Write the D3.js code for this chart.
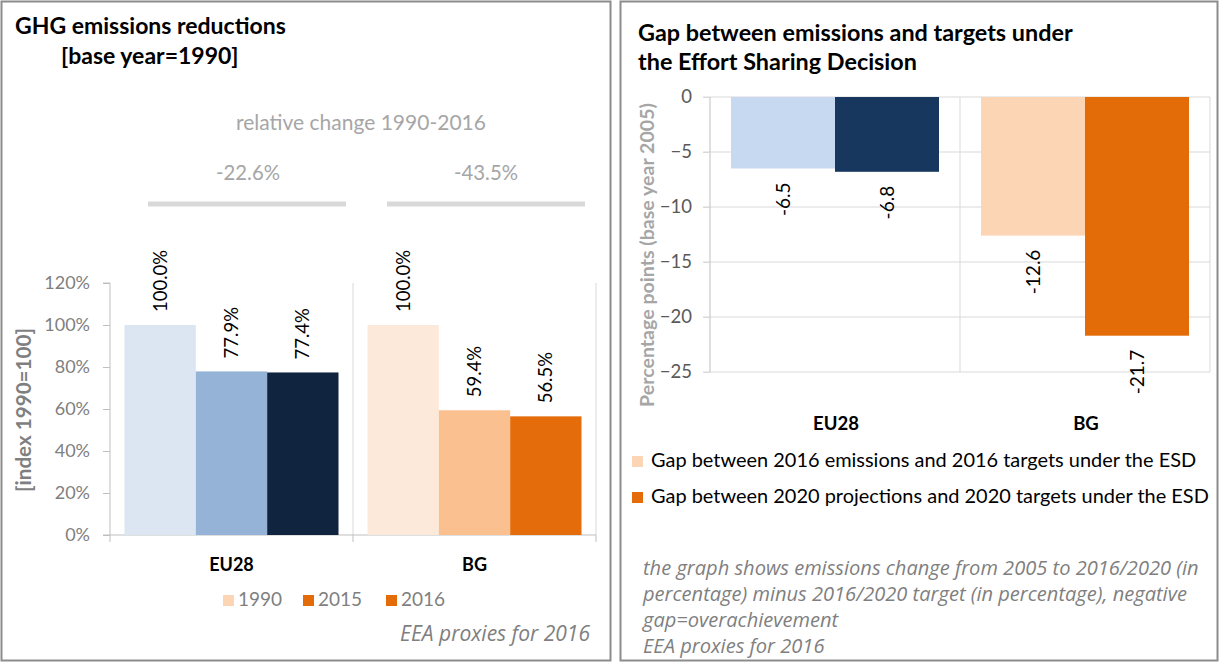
<!DOCTYPE html>
<html><head><meta charset="utf-8">
<script src="https://cdn.jsdelivr.net/npm/d3@7/dist/d3.min.js"></script>
<style>
html,body{margin:0;padding:0;background:#fff;}
svg{display:block;font-family:Lato,"Open Sans",sans-serif;}
</style></head>
<body>
<svg id="chart" width="1220" height="663"></svg>
<script>
// ---------- data ----------
const categories = ["EU28", "BG"];
const years = ["1990", "2015", "2016"];
const indexEU28 = [100.0, 77.9, 77.4];
const indexBG = [100.0, 59.4, 56.5];
const relChange = [-22.6, -43.5];
const leftTicks = [0, 20, 40, 60, 80, 100, 120];

const gapSeries = ["Gap between 2016 emissions and 2016 targets under the ESD",
                   "Gap between 2020 projections and 2020 targets under the ESD"];
const gap2016 = [-6.5, -12.6];
const gap2020 = [-6.8, -21.7];
const rightTicks = [0, -5, -10, -15, -20, -25];

const notes = ["the graph shows emissions change from 2005 to 2016/2020 (in",
               "percentage) minus  2016/2020 target (in percentage), negative",
               "gap=overachievement",
               "EEA proxies for 2016"];

// ---------- styles ----------
const leftColors = {
  EU28: ["#dce6f2", "#95b3d7", "#10243f"],
  BG: ["#fde9d9", "#fac090", "#e46c0a"]
};
const legendLeftColors = ["#fcd5b5", "#e36c09", "#e36c09"];
const rightColors = {
  EU28: ["#c6d9f1", "#17375e"],
  BG: ["#fcd5b5", "#e36c09"]
};

// scale font-size of a group of texts so the reference text reaches a target width
function fit(sels, refIndex, width) {
  const ref = sels[refIndex];
  const len = ref.node().getComputedTextLength();
  if (!len) return;
  const k = width / len;
  sels.forEach(s => s.attr("font-size", parseFloat(s.attr("font-size")) * k));
}

const svg = d3.select("#chart");

// panel borders
svg.append("rect").attr("x", 1.5).attr("y", 1.5).attr("width", 609).attr("height", 659)
  .attr("fill", "none").attr("stroke", "#8c8c8c").attr("stroke-width", 2);
svg.append("rect").attr("x", 620.5).attr("y", 1.5).attr("width", 597).attr("height", 659)
  .attr("fill", "none").attr("stroke", "#8c8c8c").attr("stroke-width", 2);

// ================= LEFT CHART =================
const L = svg.append("g");
const t1 = L.append("text").attr("x", 15).attr("y", 34).attr("font-size", 21).attr("font-weight", "bold")
  .attr("fill", "#000").text("GHG emissions reductions");
const t2 = L.append("text").attr("x", 61).attr("y", 64).attr("font-size", 21).attr("font-weight", "bold")
  .attr("fill", "#000").text("[base year=1990]");
fit([t1, t2], 0, 271);

const rc = L.append("text").attr("x", 361).attr("y", 130).attr("text-anchor", "middle").attr("font-size", 18.5)
  .attr("fill", "#a6a6a6").text("relative change 1990-2016");
fit([rc], 0, 250);

const yL = d3.scaleLinear().domain([0, 120]).range([535, 283]);
const xL = d3.scaleBand().domain(categories).range([110, 596]);
const xLi = d3.scaleBand().domain(years).range([14.5, xL.bandwidth() - 14.5]);

// relative change labels and grey brackets
const rcx = [248, 486];
const brk = [[148, 346], [387, 585]];
categories.forEach((c, i) => {
  const t = L.append("text").attr("x", rcx[i]).attr("y", 180).attr("text-anchor", "middle")
    .attr("font-size", 18.5).attr("fill", "#a6a6a6").text(relChange[i].toFixed(1) + "%");
  fit([t], 0, 64);
  L.append("line").attr("x1", brk[i][0]).attr("x2", brk[i][1])
    .attr("y1", 204).attr("y2", 204).attr("stroke", "#d9d9d9").attr("stroke-width", 5);
});

// vertical gridlines at category boundaries
[xL(categories[1]), 596].forEach(x => {
  L.append("line").attr("x1", x).attr("x2", x).attr("y1", yL(120)).attr("y2", yL(0))
    .attr("stroke", "#d9d9d9").attr("stroke-width", 1);
});

// y axis
const yAxisL = d3.axisLeft(yL).tickValues(leftTicks).tickFormat(d => d + "%").tickSize(7).tickPadding(13);
const gyL = L.append("g").attr("transform", "translate(110,0)").call(yAxisL);
gyL.select(".domain").attr("stroke", "#bfbfbf").attr("d", `M-7,${yL(120)}H0V${yL(0)}`);
gyL.selectAll(".tick line").attr("stroke", "#bfbfbf");
gyL.selectAll(".tick text").attr("font-size", 18).attr("fill", "#7f7f7f").attr("font-family", "Lato");

// x axis line with ticks
const gxL = L.append("g").attr("transform", "translate(0,535)");
gxL.append("line").attr("x1", 103).attr("x2", 596).attr("y1", 0).attr("y2", 0).attr("stroke", "#bfbfbf");
[110, xL(categories[1]), 596].forEach(x => {
  gxL.append("line").attr("x1", x).attr("x2", x).attr("y1", 0).attr("y2", 7).attr("stroke", "#bfbfbf");
});
categories.forEach(c => {
  gxL.append("text").attr("x", xL(c) + xL.bandwidth() / 2).attr("y", 36).attr("text-anchor", "middle")
    .attr("font-size", 18).attr("font-weight", "bold").attr("fill", "#000").text(c);
});

// bars
const leftData = [];
categories.forEach((c, ci) => {
  const vals = ci === 0 ? indexEU28 : indexBG;
  years.forEach((y, yi) => leftData.push({cat: c, year: y, v: vals[yi], color: leftColors[c][yi]}));
});
L.selectAll("rect.barL").data(leftData).enter().append("rect").attr("class", "barL")
  .attr("x", d => xL(d.cat) + xLi(d.year)).attr("width", xLi.bandwidth())
  .attr("y", d => yL(d.v)).attr("height", d => yL(0) - yL(d.v)).attr("fill", d => d.color);
L.selectAll("text.valL").data(leftData).enter().append("text").attr("class", "valL")
  .attr("transform", d => `translate(${xL(d.cat) + xLi(d.year) + xLi.bandwidth() / 2 + 6.5},${yL(d.v) - 13}) rotate(-90)`)
  .attr("font-size", 18.5).attr("fill", "#000").text(d => d.v.toFixed(1) + "%");

// y axis title
const yt = L.append("text").attr("transform", `translate(31,410) rotate(-90)`)
  .attr("text-anchor", "middle").attr("font-size", 18).attr("font-weight", "bold").attr("fill", "#7f7f7f")
  .text("[index 1990=100]");
fit([yt], 0, 164);

// legend
const legX = [223, 303, 386];
years.forEach((y, i) => {
  L.append("rect").attr("x", legX[i]).attr("y", 595).attr("width", 11).attr("height", 11).attr("fill", legendLeftColors[i]);
  L.append("text").attr("x", legX[i] + 15).attr("y", 606).attr("font-size", 19).attr("fill", "#7f7f7f").text(y);
});
const eeaL = L.append("text").attr("x", 590).attr("y", 641).attr("text-anchor", "end").attr("font-size", 18)
  .attr("font-style", "italic").attr("font-family", "'Open Sans'").attr("fill", "#7f7f7f").text("EEA proxies for 2016");
fit([eeaL], 0, 190);

// ================= RIGHT CHART =================
const R = svg.append("g");
const r1 = R.append("text").attr("x", 638).attr("y", 41).attr("font-size", 19.5).attr("font-weight", "bold")
  .attr("fill", "#000").text("Gap between emissions and targets under");
const r2 = R.append("text").attr("x", 638).attr("y", 70).attr("font-size", 19.5).attr("font-weight", "bold")
  .attr("fill", "#000").text("the Effort Sharing Decision");
fit([r1, r2], 0, 435);

const yR = d3.scaleLinear().domain([-25, 0]).range([372, 97]);
const xR = d3.scaleBand().domain(categories).range([710, 1210]);
const xRi = d3.scaleBand().domain([0, 1]).range([21, xR.bandwidth() - 21]);

// gridlines
R.selectAll("line.gridR").data(rightTicks).enter().append("line").attr("class", "gridR")
  .attr("x1", 703).attr("x2", 1210).attr("y1", d => yR(d)).attr("y2", d => yR(d))
  .attr("stroke", "#d9d9d9");
[xR(categories[1]), 1210].forEach(x => {
  R.append("line").attr("x1", x).attr("x2", x).attr("y1", yR(0)).attr("y2", yR(-25)).attr("stroke", "#d9d9d9");
});

const yAxisR = d3.axisLeft(yR).tickValues(rightTicks).tickFormat(d3.format("d")).tickSize(7).tickPadding(11);
const gyR = R.append("g").attr("transform", "translate(710,0)").call(yAxisR);
gyR.select(".domain").attr("stroke", "#bfbfbf").attr("d", `M0,${yR(0)}V${yR(-25)}`);
gyR.selectAll(".tick line").attr("stroke", "#d9d9d9");
gyR.selectAll(".tick text").attr("font-size", 18.5).attr("fill", "#595959").attr("font-family", "Lato");

const rightData = [];
categories.forEach((c, ci) => {
  rightData.push({cat: c, s: 0, v: gap2016[ci], color: rightColors[c][0]});
  rightData.push({cat: c, s: 1, v: gap2020[ci], color: rightColors[c][1]});
});
R.selectAll("rect.barR").data(rightData).enter().append("rect").attr("class", "barR")
  .attr("x", d => xR(d.cat) + xRi(d.s)).attr("width", xRi.bandwidth())
  .attr("y", yR(0)).attr("height", d => yR(d.v) - yR(0)).attr("fill", d => d.color);
R.selectAll("text.valR").data(rightData).enter().append("text").attr("class", "valR")
  .attr("transform", d => `translate(${xR(d.cat) + xRi(d.s) + xRi.bandwidth() / 2 + 6.5},${yR(d.v) + 14}) rotate(-90)`)
  .attr("text-anchor", "end").attr("font-size", 19).attr("fill", "#000").text(d => d.v.toFixed(1));

categories.forEach(c => {
  R.append("text").attr("x", xR(c) + xR.bandwidth() / 2 + 1).attr("y", 430)
    .attr("text-anchor", "middle").attr("font-size", 18.5).attr("font-weight", "bold").attr("fill", "#000").text(c);
});

const ryt = R.append("text").attr("transform", `translate(654,255) rotate(-90)`)
  .attr("text-anchor", "middle").attr("font-size", 16).attr("font-weight", "bold").attr("fill", "#a6a6a6")
  .text("Percentage points (base year 2005)");
fit([ryt], 0, 304);

// legend right
const legRColors = ["#fcd5b5", "#e36c09"];
const legTexts = [];
gapSeries.forEach((s, i) => {
  R.append("rect").attr("x", 632).attr("y", 456 + i * 36).attr("width", 11).attr("height", 11).attr("fill", legRColors[i]);
  legTexts.push(R.append("text").attr("x", 651).attr("y", 467 + i * 36).attr("font-size", 18.5).attr("fill", "#000").text(s));
});
fit(legTexts, 1, 558);

const noteTexts = notes.map((n, i) =>
  R.append("text").attr("x", 643).attr("y", 575 + i * 26).attr("font-size", 17).attr("font-style", "italic")
    .attr("font-family", "'Open Sans'").attr("fill", "#7f7f7f").text(n));
fit(noteTexts, 0, 556);
</script>
</body></html>
